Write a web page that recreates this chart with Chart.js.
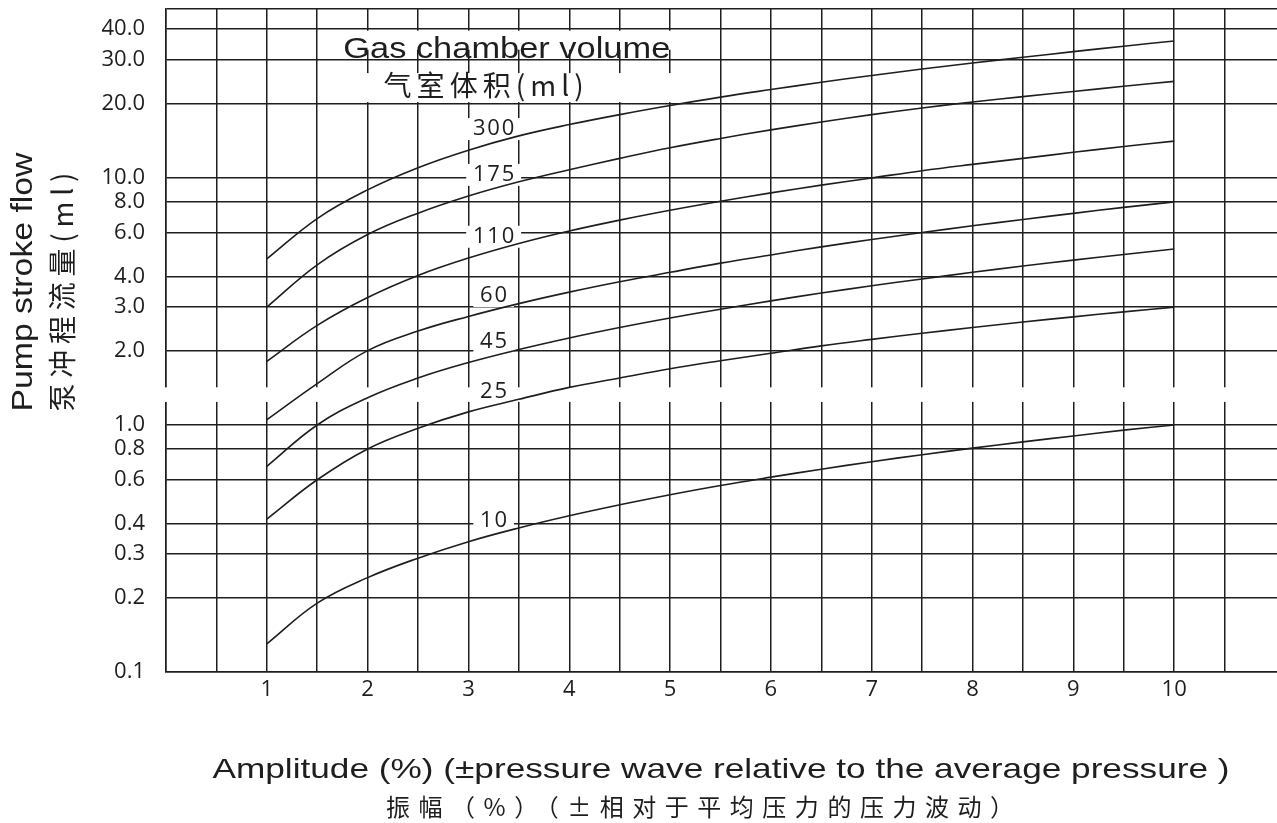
<!DOCTYPE html>
<html>
<head>
<meta charset="utf-8">
<title>Pump stroke flow vs amplitude</title>
<script src="https://cdn.jsdelivr.net/npm/chart.js@4.4.1/dist/chart.umd.min.js"></script>
<style>
    html, body { margin: 0; padding: 0; background: #ffffff; }
    #wrap { position: relative; width: 1277px; height: 823px; }
</style>
</head>
<body>
<div id="wrap"><canvas id="chart-pump-flow" width="1277" height="823"></canvas></div>
<script>
const amplitude = [1, 1.5, 2, 2.5, 3, 3.5, 4, 4.5, 5, 5.5, 6, 6.5, 7, 7.5, 8, 8.5, 9, 9.5, 10];

// Gas chamber volumes (ml) and pump stroke flow (ml) for each one
const volumes = ['300', '175', '110', '60', '45', '25', '10'];
const flow300 = [4.7, 6.85, 8.95, 11.0, 12.95, 14.8, 16.45, 18.05, 19.65, 21.25, 22.8, 24.4, 26.0, 27.6, 29.2, 30.8, 32.45, 34.15, 35.85];
const flow175 = [3.0, 4.45, 5.9, 7.2, 8.45, 9.65, 10.8, 12.0, 13.25, 14.45, 15.65, 16.85, 18.05, 19.2, 20.3, 21.35, 22.4, 23.5, 24.6];
const flow110 = [1.81, 2.53, 3.28, 4.03, 4.74, 5.43, 6.1, 6.75, 7.4, 8.05, 8.7, 9.35, 10.0, 10.7, 11.35, 12.0, 12.7, 13.4, 14.1];
const flow60  = [1.05, 1.47, 2.0, 2.40, 2.75, 3.10, 3.45, 3.80, 4.15, 4.52, 4.88, 5.26, 5.63, 6.01, 6.40, 6.79, 7.19, 7.60, 8.0];
const flow45  = [0.68, 1.0, 1.29, 1.55, 1.79, 2.02, 2.25, 2.48, 2.71, 2.94, 3.18, 3.42, 3.66, 3.9, 4.15, 4.4, 4.65, 4.9, 5.16];
const flow25  = [0.416, 0.6, 0.8, 0.97, 1.13, 1.27, 1.42, 1.55, 1.69, 1.82, 1.95, 2.09, 2.22, 2.35, 2.48, 2.61, 2.74, 2.87, 3.0];
const flow10  = [0.13, 0.19, 0.241, 0.289, 0.337, 0.383, 0.429, 0.475, 0.522, 0.569, 0.615, 0.662, 0.71, 0.758, 0.806, 0.854, 0.903, 0.953, 1.0];
const flows = [flow300, flow175, flow110, flow60, flow45, flow25, flow10];

// Tick labels
const xTickValues = [1, 2, 3, 4, 5, 6, 7, 8, 9, 10];
const yTickValues = [0.1, 0.2, 0.3, 0.4, 0.6, 0.8, 1, 2, 3, 4, 6, 8, 10, 20, 30, 40];

// Texts
const yTitle = ['Pump stroke flow', '泵冲程流量(ml)'];
const xTitle = ['Amplitude (%) (±pressure wave relative to the average pressure )', '振幅（%）（±相对于平均压力的压力波动）'];
const volumeTitle = ['Gas chamber volume', '气室体积(ml)'];

// Axis ranges / decoration
const X_MAX = 11.02;
const Y_MIN = 0.1;
const Y_MAX = 48.3;
const AXIS_BREAK = [1.24, 1.42];   // white band cutting the grid
const LABEL_X = 3.25;               // where the volume numbers sit

const INK = '#1e1e1e';
const TICK_FONT = { family: '"Open Sans", "Noto Sans", sans-serif', size: 22 };
const LATIN = '"Liberation Sans", Arial, sans-serif';
const CJK = '"Noto Sans CJK SC", "Noto Sans", sans-serif';

function valueAt(series, x) {
    for (let i = 0; i < amplitude.length - 1; i++) {
        if (x >= amplitude[i] && x <= amplitude[i + 1]) {
            const t = (x - amplitude[i]) / (amplitude[i + 1] - amplitude[i]);
            const a = Math.log10(series[i]), b = Math.log10(series[i + 1]);
            return Math.pow(10, a + (b - a) * t);
        }
    }
    return series[series.length - 1];
}

// text stretched horizontally to a given width
function drawStretched(ctx, text, cx, cy, width, font, baseline) {
    ctx.save();
    ctx.font = font;
    ctx.textBaseline = baseline || 'alphabetic';
    ctx.textAlign = 'center';
    const w = ctx.measureText(text).width;
    ctx.translate(cx, cy);
    ctx.scale(width / w, 1);
    ctx.fillText(text, 0, 0);
    ctx.restore();
}

// text with letters spread out to a given width
function drawSpaced(ctx, text, cx, cy, width, font, baseline) {
    ctx.save();
    ctx.font = font;
    ctx.textBaseline = baseline || 'alphabetic';
    ctx.textAlign = 'left';
    ctx.letterSpacing = '0px';
    const w = ctx.measureText(text).width;
    const n = Array.from(text).length;
    const gap = n > 1 ? (width - w) / (n - 1) : 0;
    ctx.letterSpacing = gap.toFixed(2) + 'px';
    ctx.fillText(text, cx - width / 2, cy);
    ctx.restore();
}

function labelPos(chart, i) {
    const { x, y } = chart.scales;
    return {
        cx: x.getPixelForValue(LABEL_X),
        cy: y.getPixelForValue(valueAt(flows[i], LABEL_X)) - 14
    };
}

const decorations = {
    id: 'decorations',
    beforeDatasetsDraw(chart) {
        const { ctx, chartArea: area, scales: { x, y } } = chart;
        ctx.save();
        ctx.fillStyle = '#ffffff';

        // broken axis band
        const bTop = y.getPixelForValue(AXIS_BREAK[1]);
        const bBot = y.getPixelForValue(AXIS_BREAK[0]);
        ctx.fillRect(area.left - 3, bTop, area.right - area.left + 3, bBot - bTop);

        // boxes behind "Gas chamber volume"
        const bx0 = x.getPixelForValue(1.73), bx1 = x.getPixelForValue(5.03);
        ctx.fillRect(bx0, y.getPixelForValue(40) + 1.5, bx1 - bx0, 19);
        ctx.fillRect(bx0, y.getPixelForValue(30) + 13, bx1 - bx0, y.getPixelForValue(20) - y.getPixelForValue(30) - 14.5);

        // boxes behind the volume numbers
        volumes.forEach((v, i) => {
            const p = labelPos(chart, i);
            const w = v.length * 14.3 + 12;
            ctx.fillRect(p.cx - w / 2, p.cy - 11, w, 22);
        });
        ctx.restore();
    },
    afterDraw(chart) {
        const { ctx, scales: { x, y } } = chart;
        ctx.save();
        ctx.fillStyle = INK;

        // volume numbers
        volumes.forEach((v, i) => {
            const p = labelPos(chart, i);
            drawSpaced(ctx, v, p.cx, p.cy, v.length * 14.3 - 1.5, '22px ' + TICK_FONT.family, 'middle');
        });

        // legend heading
        drawStretched(ctx, volumeTitle[0], x.getPixelForValue(3.38), y.getPixelForValue(30) - 2, 327, '30px ' + LATIN);
        drawSpaced(ctx, volumeTitle[1], x.getPixelForValue(3.15), y.getPixelForValue(30) + 25, 200, '28px ' + CJK, 'middle');

        // y axis title (rotated)
        ctx.save();
        ctx.translate(32, 282);
        ctx.rotate(-Math.PI / 2);
        drawStretched(ctx, yTitle[0], 0, 0, 259, '29px ' + LATIN);
        ctx.restore();
        ctx.save();
        ctx.translate(62, 292);
        ctx.rotate(-Math.PI / 2);
        drawSpaced(ctx, yTitle[1], 0, 0, 239, '28px ' + CJK, 'middle');
        ctx.restore();

        // x axis title
        drawStretched(ctx, xTitle[0], 721, 778, 1017, '28px ' + LATIN);
        drawSpaced(ctx, xTitle[1], 700, 807, 628, '24px ' + CJK, 'middle');
        ctx.restore();
    }
};

const ctx = document.getElementById('chart-pump-flow').getContext('2d');

new Chart(ctx, {
    type: 'line',
    data: {
        datasets: volumes.map((v, i) => ({
            label: v + ' ml',
            data: amplitude.map((a, j) => ({ x: a, y: flows[i][j] })),
            borderColor: INK,
            borderWidth: 1.6,
            pointRadius: 0,
            fill: false,
            tension: 0.4
        }))
    },
    options: {
        responsive: false,
        devicePixelRatio: 1,
        animation: false,
        layout: { padding: { top: 9, right: 0, bottom: 0, left: 0 } },
        plugins: {
            legend: { display: false },
            tooltip: { enabled: false }
        },
        scales: {
            x: {
                type: 'linear',
                position: 'bottom',
                min: 0,
                max: X_MAX,
                afterBuildTicks(scale) {
                    const t = [];
                    for (let k = 0; k <= 21; k++) t.push({ value: k / 2 });
                    scale.ticks = t;
                },
                afterFit(scale) {
                    scale.height = 151;
                    scale.paddingLeft = 0;
                    scale.paddingRight = 0;
                },
                ticks: {
                    autoSkip: false,
                    maxRotation: 0,
                    padding: 5,
                    color: INK,
                    font: TICK_FONT,
                    callback: (v) => xTickValues.includes(v) ? String(v) : ''
                },
                grid: { color: INK, lineWidth: 1.5, drawTicks: false },
                border: { display: true, color: INK, width: 1.5 }
            },
            y: {
                type: 'logarithmic',
                min: Y_MIN,
                max: Y_MAX,
                afterBuildTicks(scale) {
                    scale.ticks = yTickValues.concat([Y_MAX]).map(v => ({ value: v }));
                },
                afterFit(scale) {
                    scale.width = 166;
                    scale.paddingTop = 0;
                    scale.paddingBottom = 0;
                },
                ticks: {
                    autoSkip: false,
                    padding: 21,
                    color: INK,
                    font: TICK_FONT,
                    callback: (v) => yTickValues.includes(v) ? v.toFixed(1) : ''
                },
                grid: { color: INK, lineWidth: 1.5, drawTicks: false },
                border: { display: true, color: INK, width: 1.5 }
            }
        }
    },
    plugins: [decorations]
});
</script>
</body>
</html>
